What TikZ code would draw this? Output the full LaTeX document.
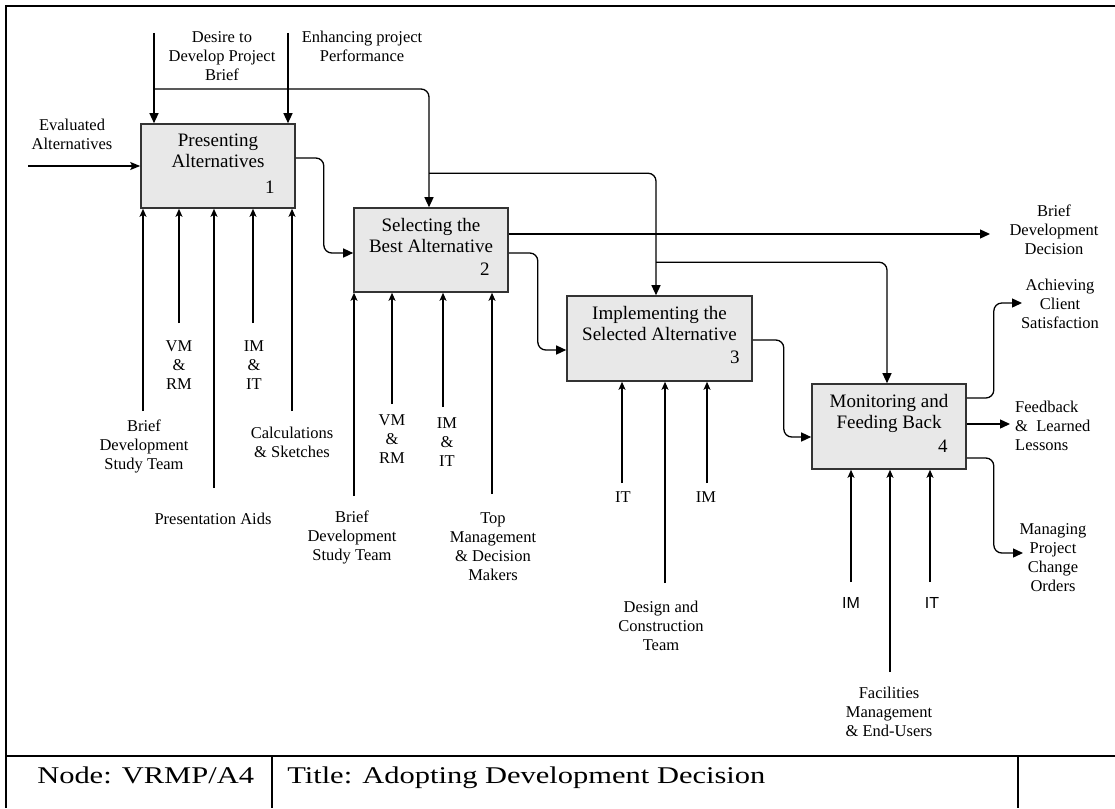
\documentclass[tikz,border=0pt]{standalone}
\usepackage{fontspec}
\setmainfont{Liberation Serif}
\newfontfamily\labelsans{Liberation Sans}
\usetikzlibrary{arrows.meta}

\begin{document}
\begin{tikzpicture}[x=1pt,y=-1pt,
  box/.style={draw=black!80,line width=1.6pt,fill=black!9,inner sep=0pt},
  boxtext/.style={font=\fontsize{19}{21}\selectfont,align=center,inner sep=0pt,anchor=north},
  num/.style={font=\fontsize{19}{21}\selectfont,inner sep=0pt,anchor=base east},
  lbl/.style={font=\fontsize{16.5}{19}\selectfont,align=center,inner sep=0pt},
  sanslbl/.style={font=\labelsans\fontsize{16}{19}\selectfont,inner sep=0pt},
  foot/.style={font=\fontsize{24}{28}\selectfont,inner sep=0pt,anchor=base west,xscale=1.27},
  wire/.style={line width=1.3pt,draw=black},
  ctrl/.style={wire,rounded corners=8pt,-{Triangle[length=10pt,width=9pt]}},
  flow/.style={wire,rounded corners=8pt,-{Triangle[length=10pt,width=9pt]}},
  inp/.style={wire,-{Stealth[length=10pt,width=8pt,inset=2pt]}},
  mech/.style={wire,-{Stealth[length=8pt,width=7pt,inset=2pt]}},
  frame/.style={line width=1.8pt}
]
\useasboundingbox (0,0) rectangle (1115,808);

% outer frame and footer
\draw[frame] (6,808) -- (6,6) -- (1115,6);
\draw[line width=2.8pt] (6,756) -- (1115,756);
\draw[frame] (272,756) -- (272,808);
\draw[frame] (1018,756) -- (1018,808);
\node[foot] (fnode) at (37,783) {Node: VRMP/A4};
\node[foot] (ftitle) at (287,783) {Title: Adopting Development Decision};

% activity boxes
\node[box,minimum width=154pt,minimum height=84pt] (b1) at (218,166) {};
\node[box,minimum width=154pt,minimum height=84pt] (b2) at (431,250) {};
\node[box,minimum width=185pt,minimum height=85pt] (b3) at (659.5,338.5) {};
\node[box,minimum width=154pt,minimum height=85pt] (b4) at (889,426.5) {};

\node[boxtext] (t1) at ([yshift=-10.5pt]b1.north) {Presenting\\Alternatives};
\node[boxtext] (t2) at ([yshift=-10.5pt]b2.north) {Selecting the\\Best Alternative};
\node[boxtext] (t3) at ([yshift=-10.5pt]b3.north) {Implementing the\\Selected Alternative};
\node[boxtext] (t4) at ([yshift=-10.5pt]b4.north) {Monitoring and\\Feeding Back};

\node[num] (n1) at ([xshift=-21pt,yshift=15pt]b1.south east) {1};
\node[num] (n2) at ([xshift=-19pt,yshift=17pt]b2.south east) {2};
\node[num] (n3) at ([xshift=-13pt,yshift=18pt]b3.south east) {3};
\node[num] (n4) at ([xshift=-19pt,yshift=17pt]b4.south east) {4};

% controls from the top
\coordinate (c1) at (154,33);
\coordinate (c2) at (288,33);
\draw[ctrl] (c1) -- (c1 |- b1.north);
\draw[ctrl] (c2) -- (c2 |- b1.north);
\coordinate (j1) at (154,89);
\draw[ctrl] (j1) -| ([xshift=-2pt]b2.north);
\path ([xshift=-2pt]b2.north) ++(0,-34) coordinate (j2);
\draw[ctrl] (j2) -| ([xshift=-3.5pt]b3.north);
\path ([xshift=-3.5pt]b3.north) ++(0,-33) coordinate (j3);
\draw[ctrl] (j3) -| ([xshift=-2pt]b4.north);

\node[lbl] (lc1) at (222,56) {Desire to\\Develop Project\\Brief};
\node[lbl] (lc2) at (362,46.5) {Enhancing project\\Performance};

% input
\coordinate (e1) at (28,166);
\draw[inp] (e1) -- (b1.west);
\node[lbl] (le1) at (72,134) {Evaluated\\Alternatives};

% flows between boxes
\draw[flow] ([yshift=8pt]b1.east) -- ++(28,0) |- ([yshift=-3pt]b2.west);
\draw[flow] ([yshift=-3pt]b2.east) -- ++(29,0) |- ([yshift=-11.5pt]b3.west);
\draw[flow] ([yshift=-1.5pt]b3.east) -- ++(31,0) |- ([yshift=-10.5pt]b4.west);

% outputs
\coordinate (o2) at (990,234);
\draw[flow] ([yshift=16pt]b2.east) -- (o2);
\node[lbl] (lo2) at (1054,230) {Brief\\Development\\Decision};

\coordinate (o4a) at (1022,303);
\coordinate (o4b) at (1010,424);
\coordinate (o4c) at (1023,553);
\draw[flow] ([yshift=28.5pt]b4.east) -- ++(27,0) |- (o4a);
\draw[flow] ([yshift=2.5pt]b4.east) -- (o4b);
\draw[flow] ([yshift=-31.5pt]b4.east) -- ++(27,0) |- (o4c);
\node[lbl] (lo4a) at (1060,304) {Achieving\\Client\\Satisfaction};
\node[lbl,align=left,anchor=west] (lo4b) at (1015,426) {Feedback\\\&\ \ Learned\\Lessons};
\node[lbl] (lo4c) at (1053,557.5) {Managing\\Project\\Change\\Orders};

% mechanisms of box 1
\coordinate (m1a) at (143,411);
\coordinate (m1b) at (179,323);
\coordinate (m1c) at (214,488);
\coordinate (m1d) at (253,323);
\coordinate (m1e) at (292,411);
\foreach \m in {m1a,m1b,m1c,m1d,m1e} \draw[mech] (\m) -- (\m |- b1.south);
\node[lbl] (l1b) at (179,365) {VM\\\&\\RM};
\node[lbl] (l1d) at (254,365) {IM\\\&\\IT};
\node[lbl] (l1a) at (144,446) {Brief\\Development\\Study Team};
\node[lbl] (l1e) at (292,442.5) {Calculations\\\& Sketches};
\node[lbl] (l1c) at (213,519) {Presentation Aids};

% mechanisms of box 2
\coordinate (m2a) at (354,496);
\coordinate (m2b) at (392,404);
\coordinate (m2c) at (443,407);
\coordinate (m2d) at (492,494);
\foreach \m in {m2a,m2b,m2c,m2d} \draw[mech] (\m) -- (\m |- b2.south);
\node[lbl] (l2b) at (392,439) {VM\\\&\\RM};
\node[lbl] (l2c) at (447,442) {IM\\\&\\IT};
\node[lbl] (l2a) at (352,537) {Brief\\Development\\Study Team};
\node[lbl] (l2d) at (493,546.5) {Top\\Management\\\& Decision\\Makers};

% mechanisms of box 3
\coordinate (m3a) at (622,483);
\coordinate (m3b) at (665,583);
\coordinate (m3c) at (707,483);
\foreach \m in {m3a,m3b,m3c} \draw[mech] (\m) -- (\m |- b3.south);
\node[lbl] (l3a) at (623,497) {IT};
\node[lbl] (l3c) at (706,497) {IM};
\node[lbl] (l3b) at (661,626) {Design and\\Construction\\Team};

% mechanisms of box 4
\coordinate (m4a) at (851,582);
\coordinate (m4b) at (890,672);
\coordinate (m4c) at (930,582);
\foreach \m in {m4a,m4b,m4c} \draw[mech] (\m) -- (\m |- b4.south);
\node[sanslbl] (l4a) at (851,603) {IM};
\node[sanslbl] (l4c) at (932,603) {IT};
\node[lbl] (l4b) at (889,712) {Facilities\\Management\\\& End-Users};

\end{tikzpicture}
\end{document}
